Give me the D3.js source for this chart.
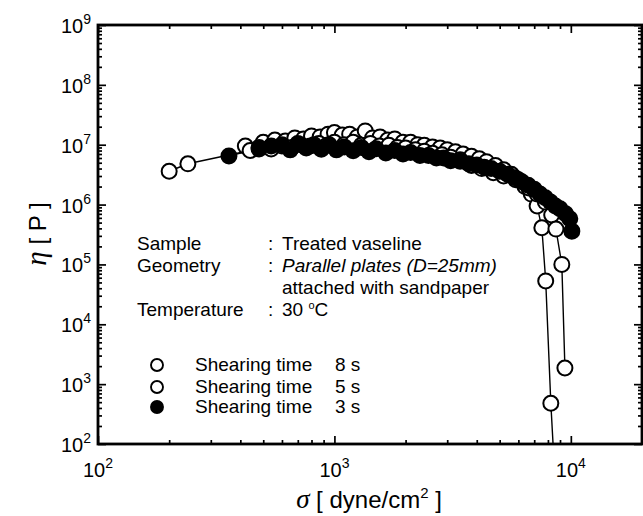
<!DOCTYPE html>
<html><head><meta charset="utf-8">
<script src="https://cdn.jsdelivr.net/npm/d3@7"></script>
<style>
body{margin:0;background:#fff}
svg{display:block}
text{font-family:"Liberation Sans",Arial,sans-serif;fill:#000}
</style>
</head><body>
<svg id="c" width="643" height="516"></svg>
<script>
// ---- data ----
const sigma3 = [358,480,540,600,650,700,760,820,880,950,1020,1100,1200,1300,1400,1500,1650,1800,1950,2100,2300,2500,2700,2900,3100,3400,3700,4000,4300,4600,5000,5400,5800,6200,6600,7000,7400,7800,8200,8600,9000,9500,9900,10100];
const eta3   = [6.5e6,8.5e6,9.5e6,1.0e7,8.2e6,1.05e7,8.8e6,1.0e7,8.4e6,1.0e7,8.2e6,9.2e6,7.9e6,9.0e6,7.6e6,8.6e6,7.3e6,8.0e6,7.0e6,7.4e6,6.6e6,6.6e6,6.0e6,6.0e6,5.4e6,5.3e6,4.8e6,4.6e6,4.2e6,4.0e6,3.6e6,3.2e6,2.8e6,2.4e6,2.1e6,1.8e6,1.5e6,1.3e6,1.1e6,9.5e5,8.5e5,7.0e5,5.8e5,3.6e5];

const sigma5 = [200,240,440,480,540,600,660,720,790,860,930,1000,1100,1200,1300,1420,1550,1700,1850,2000,2200,2400,2600,2850,3100,3400,3800,4200,4700,5200,5850,6640,7200,7800,8300,8650,9160,9440];
const eta5   = [3.6e6,4.8e6,8.0e6,9.0e6,8.5e6,9.5e6,9.0e6,1.0e7,9.5e6,1.05e7,9.8e6,1.1e7,1.0e7,1.1e7,9.8e6,1.05e7,9.5e6,9.8e6,9.0e6,8.8e6,8.2e6,7.8e6,7.2e6,6.8e6,6.2e6,5.6e6,4.5e6,4.0e6,3.4e6,3.0e6,2.6e6,1.9e6,1.5e6,1.1e6,6.7e5,3.9e5,1.0e5,1.86e3];

const sigma8 = [420,500,560,620,680,740,800,870,940,1000,1080,1160,1250,1350,1450,1560,1680,1800,1950,2100,2250,2400,2600,2800,3000,3250,3500,3800,4100,4400,4800,5200,5600,6000,6400,6800,7200,7540,7830,8230,8600];
const eta8   = [9.5e6,1.1e7,1.2e7,1.15e7,1.3e7,1.25e7,1.4e7,1.35e7,1.5e7,1.6e7,1.45e7,1.5e7,1.35e7,1.7e7,1.3e7,1.35e7,1.2e7,1.25e7,1.1e7,1.1e7,1.0e7,9.8e6,9.2e6,8.8e6,8.2e6,7.6e6,7.0e6,6.4e6,5.8e6,5.2e6,4.5e6,3.8e6,3.2e6,2.6e6,2.0e6,1.5e6,9.5e5,4.1e5,5.3e4,4.8e2,2.0e1];

const xDecades = [100, 1000, 10000];
const xDecadeExp = ["2","3","4"];
const yDecades = [1e2,1e3,1e4,1e5,1e6,1e7,1e8,1e9];
const yDecadeExp = ["2","3","4","5","6","7","8","9"];
const legendLabels = ["Shearing time", "Shearing time", "Shearing time"];
const legendTimes = ["8 s", "5 s", "3 s"];
const legendFilled = [false, false, true];

// ---- layout ----
const L = 98, R = 642, T = 25, B = 444;
const svg = d3.select("#c");
const x = d3.scaleLog().domain([100, 20000]).range([L, R]);
const y = d3.scaleLog().domain([100, 1e9]).range([B, T]);

const xMinor = [];
[100,1000,10000].forEach(d => { for (let k=2;k<=9;k++){ const v=d*k; if (v<=20000) xMinor.push(v);} });
const yMinor = [];
[1e2,1e3,1e4,1e5,1e6,1e7,1e8].forEach(d => { for (let k=2;k<=9;k++) yMinor.push(d*k); });

function axisStyle(g){ g.select(".domain").remove(); g.selectAll("line").attr("stroke","#000").attr("stroke-width",1.7); g.selectAll("text").remove(); }

svg.append("g").attr("transform",`translate(0,${B})`).call(d3.axisBottom(x).tickValues(xMinor).tickSize(-4).tickSizeOuter(0)).call(axisStyle);
svg.append("g").attr("transform",`translate(0,${B})`).call(d3.axisBottom(x).tickValues(xDecades).tickSize(-8).tickSizeOuter(0)).call(axisStyle);
svg.append("g").attr("transform",`translate(0,${T})`).call(d3.axisTop(x).tickValues(xMinor).tickSize(-4).tickSizeOuter(0)).call(axisStyle);
svg.append("g").attr("transform",`translate(0,${T})`).call(d3.axisTop(x).tickValues(xDecades).tickSize(-8).tickSizeOuter(0)).call(axisStyle);
svg.append("g").attr("transform",`translate(${L},0)`).call(d3.axisLeft(y).tickValues(yMinor).tickSize(-4).tickSizeOuter(0)).call(axisStyle);
svg.append("g").attr("transform",`translate(${L},0)`).call(d3.axisLeft(y).tickValues(yDecades).tickSize(-8).tickSizeOuter(0)).call(axisStyle);
svg.append("g").attr("transform",`translate(${R},0)`).call(d3.axisRight(y).tickValues(yMinor).tickSize(-4).tickSizeOuter(0)).call(axisStyle);
svg.append("g").attr("transform",`translate(${R},0)`).call(d3.axisRight(y).tickValues(yDecades).tickSize(-8).tickSizeOuter(0)).call(axisStyle);

svg.append("rect").attr("x",L).attr("y",T).attr("width",R-L).attr("height",B-T)
  .attr("fill","none").attr("stroke","#000").attr("stroke-width",2.8);

// tick labels
xDecades.forEach((d,i)=>{
  const t = svg.append("text").attr("x", x(d)).attr("y", 477).attr("text-anchor","middle").attr("font-size",20);
  t.append("tspan").text("10");
  t.append("tspan").attr("dy",-9).attr("font-size",14).text(xDecadeExp[i]);
});
yDecades.forEach((d,i)=>{
  const t = svg.append("text").attr("x", 91).attr("y", y(d)+8).attr("text-anchor","end").attr("font-size",20);
  t.append("tspan").text("10");
  t.append("tspan").attr("dy",-9).attr("font-size",14).text(yDecadeExp[i]);
});

// axis titles
const xt = svg.append("text").attr("x", 369).attr("y", 508).attr("text-anchor","middle").attr("font-size",24);
xt.append("tspan").attr("font-family","'Liberation Serif',serif").attr("font-style","italic").attr("font-size",27).text("σ");
xt.append("tspan").text(" [ dyne/cm");
xt.append("tspan").attr("dy",-10).attr("font-size",15).text("2");
xt.append("tspan").attr("dy",10).text(" ]");
const yt = svg.append("text").attr("transform","translate(46,234) rotate(-90)").attr("text-anchor","middle").attr("font-size",24);
yt.append("tspan").attr("font-family","'Liberation Serif',serif").attr("font-style","italic").attr("font-size",29).text("η");
yt.append("tspan").text(" [ P ]");

// data
svg.append("defs").append("clipPath").attr("id","clip").append("rect")
  .attr("x",L).attr("y",T).attr("width",R-L).attr("height",B-T);
const plot = svg.append("g").attr("clip-path","url(#clip)");
const line = d3.line().x(d=>x(d[0])).y(d=>y(d[1]));
const series = [
  {s:sigma8, e:eta8, filled:false},
  {s:sigma5, e:eta5, filled:false},
  {s:sigma3, e:eta3, filled:true}
];
series.forEach(S=>{
  const pts = S.s.map((v,i)=>[v,S.e[i]]);
  plot.append("path").attr("d", line(pts)).attr("fill","none").attr("stroke","#000").attr("stroke-width",1.4);
});
series.forEach(S=>{
  const pts = S.s.map((v,i)=>[v,S.e[i]]);
  plot.append("g").selectAll("circle").data(pts).join("circle")
    .attr("cx",d=>x(d[0])).attr("cy",d=>y(d[1])).attr("r",7.5)
    .attr("fill", S.filled ? "#000" : "#fff").attr("stroke","#000").attr("stroke-width",2);
});

// annotation text
const ann = svg.append("g").attr("font-size",19);
function addText(tx,ty,str,italic){ return ann.append("text").attr("x",tx).attr("y",ty).attr("font-style", italic?"italic":"normal").text(str); }
addText(137,250,"Sample");
addText(268,250,":");
addText(282,250,"Treated vaseline");
addText(137,272,"Geometry");
addText(268,272,":");
addText(282,272,"Parallel plates (D=25mm)",true);
addText(282,293.5,"attached with sandpaper");
addText(137,315.5,"Temperature");
addText(268,315.5,":");
const tt = addText(282,315.5,"30 ");
tt.append("tspan").attr("dy",-7).attr("font-size",11).text("o");
tt.append("tspan").attr("dy",7).text("C");

// legend
const legY = [365, 387, 407];
legendLabels.forEach((lab,i)=>{
  svg.append("circle").attr("cx",157).attr("cy",legY[i]).attr("r",6)
    .attr("fill", legendFilled[i] ? "#000" : "#fff").attr("stroke","#000").attr("stroke-width",1.9);
  svg.append("text").attr("x",195).attr("y",legY[i]+6).attr("font-size",19).text(lab);
  svg.append("text").attr("x",335).attr("y",legY[i]+6).attr("font-size",19).text(legendTimes[i]);
});
</script>
</body></html>
